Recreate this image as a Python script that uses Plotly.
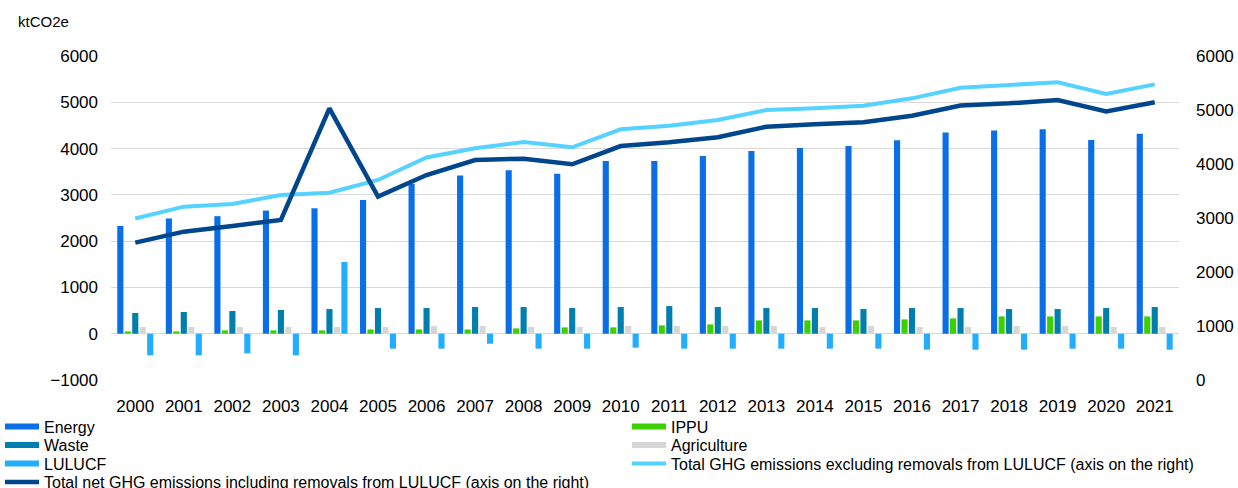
import plotly.graph_objects as go

years = [str(y) for y in range(2000, 2022)]

energy = [2330, 2490, 2540, 2660, 2710, 2890, 3240, 3420, 3530, 3455, 3730, 3730,
          3840, 3945, 4010, 4055, 4180, 4345, 4390, 4415, 4185, 4320]
ippu = [50, 50, 72, 72, 72, 93, 93, 93, 115, 137, 137, 180,
        201, 288, 288, 288, 309, 331, 374, 374, 374, 374]
waste = [447, 469, 490, 512, 533, 555, 555, 576, 576, 555, 576, 598,
         576, 555, 555, 533, 555, 555, 533, 533, 555, 576]
agriculture = [144, 144, 144, 144, 144, 144, 166, 166, 144, 144, 166, 166,
               166, 166, 144, 166, 144, 144, 166, 166, 144, 144]
lulucf = [-467, -467, -424, -467, 1549, -323, -323, -216, -323, -323, -302, -323,
          -323, -323, -323, -323, -345, -345, -345, -323, -323, -345]
total_excl = [2990, 3210, 3259, 3426, 3469, 3704, 4120, 4290, 4407, 4309, 4642, 4710,
              4815, 5000, 5031, 5080, 5216, 5410, 5463, 5512, 5296, 5475]
total_net = [2543, 2747, 2852, 2963, 5031, 3395, 3796, 4074, 4099, 3994, 4333, 4401,
             4494, 4691, 4735, 4772, 4895, 5083, 5123, 5185, 4975, 5142]

left_ticks = [-1000, 0, 1000, 2000, 3000, 4000, 5000, 6000]
right_ticks = [0, 1000, 2000, 3000, 4000, 5000, 6000]

bar_series = [
    ("Energy", energy, "#0A6FE6"),
    ("IPPU", ippu, "#3DD000"),
    ("Waste", waste, "#007FAF"),
    ("Agriculture", agriculture, "#D6D6D6"),
    ("LULUCF", lulucf, "#22AEFF"),
]
name_excl = "Total GHG emissions excluding removals from LULUCF (axis on the right)"
name_net = "Total net GHG emissions including removals from LULUCF (axis on the right)"

FONT = "Liberation Sans, Arial, sans-serif"
LEG_FONT = 16

# legend slot for each entry: (legend id, column x px, row center y px)
legend_slots = {
    "Energy": ("legend", 0, 427),
    "IPPU": ("legend2", 627, 427),
    "Waste": ("legend3", 0, 445.5),
    "Agriculture": ("legend4", 627, 445.5),
    "LULUCF": ("legend5", 0, 464),
    name_excl: ("legend6", 627, 464),
    name_net: ("legend7", 0, 482.5),
}

fig = go.Figure()
for name, vals, col in bar_series:
    fig.add_trace(go.Bar(x=years, y=vals, name=name, marker=dict(color=col, line=dict(width=0)),
                         legendgroup=name, showlegend=False, yaxis="y"))

# legend entries (wide flat swatches like the original)
for name, vals, col in bar_series:
    fig.add_trace(go.Scatter(x=[None], y=[None], mode="lines", name=name, legendgroup=name,
                             legend=legend_slots[name][0],
                             line=dict(color=col, width=6), yaxis="y", hoverinfo="skip"))

fig.add_trace(go.Scatter(x=years, y=total_excl, mode="lines", yaxis="y2", name=name_excl,
                         legend=legend_slots[name_excl][0],
                         line=dict(color="#55D2FF", width=4)))
fig.add_trace(go.Scatter(x=years, y=total_net, mode="lines", yaxis="y2", name=name_net,
                         legend=legend_slots[name_net][0],
                         line=dict(color="#00468C", width=4.5)))

H = 488
W = 1238
offset = 16.2 + (LEG_FONT - 14) * 0.65
legend_layouts = {}
for name, (lid, lx, ly) in legend_slots.items():
    legend_layouts[lid] = dict(
        xref="container", yref="container", x=lx / W, y=1 - (ly - offset) / H,
        xanchor="left", yanchor="top", itemwidth=34,
        font=dict(size=LEG_FONT, color="#000", family=FONT), bgcolor="rgba(0,0,0,0)")

fig.update_layout(
    width=W, height=H,
    margin=dict(l=111, r=59, t=56, b=108, autoexpand=False),
    paper_bgcolor="white", plot_bgcolor="white",
    font=dict(family=FONT, color="#000000"),
    barmode="group", bargap=0.23, bargroupgap=0.18,
    xaxis=dict(type="category", showgrid=False, ticks="", showline=False, automargin=False,
               tickangle=0, tickfont=dict(size=17, color="#000"), ticklabelstandoff=14),
    yaxis=dict(range=[-1000, 6000], tickvals=left_ticks, showgrid=True, gridcolor="#D9D9D9",
               gridwidth=1, zeroline=False, showline=False, ticks="", automargin=False,
               tickfont=dict(size=17, color="#000"), ticklabelstandoff=12),
    yaxis2=dict(range=[0, 6000], tickvals=right_ticks, overlaying="y", side="right",
                showgrid=False, zeroline=False, showline=False, ticks="", automargin=False,
                tickfont=dict(size=17, color="#000"), ticklabelstandoff=16),
    annotations=[dict(text="ktCO2e", xref="paper", yref="paper", x=0, y=1, xshift=-95,
                      yshift=35, xanchor="left", yanchor="middle", showarrow=False,
                      font=dict(size=15, color="#000"))],
    **legend_layouts,
)

fig.write_html("out.html")
